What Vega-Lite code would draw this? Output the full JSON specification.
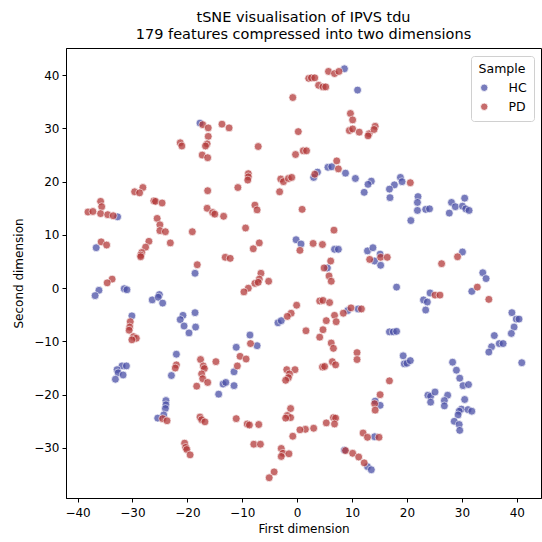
{
  "$schema": "https://vega.github.io/schema/vega-lite/v6.json",
  "width": 475,
  "height": 450,
  "autosize": {"type": "none"},
  "padding": {"left": 66, "top": 48, "right": 1, "bottom": 44},
  "title": {
    "text": ["tSNE visualisation of IPVS tdu", "179 features compressed into two dimensions"],
    "fontSize": 14.5,
    "fontWeight": "normal",
    "font": "DejaVu Sans",
    "color": "black",
    "anchor": "middle",
    "lineHeight": 17,
    "offset": 6
  },
  "data": {
    "values": [
      {"x": -17.7, "y": 31.0, "s": "HC"},
      {"x": 8.6, "y": 41.2, "s": "HC"}, {"x": 11.0, "y": 37.2, "s": "HC"}, {"x": 5.6, "y": 22.7, "s": "HC"}, {"x": 6.3, "y": 22.8, "s": "HC"}, {"x": 3.7, "y": 21.8, "s": "HC"}, {"x": 3.0, "y": 20.8, "s": "HC"}, {"x": 8.8, "y": 21.6, "s": "HC"}, {"x": 10.6, "y": 20.6, "s": "HC"}, {"x": 13.5, "y": 20.1, "s": "HC"}, {"x": 12.9, "y": 19.5, "s": "HC"}, {"x": 12.2, "y": 18.0, "s": "HC"},
      {"x": 18.8, "y": 20.8, "s": "HC"}, {"x": 19.1, "y": 20.0, "s": "HC"}, {"x": 17.7, "y": 19.4, "s": "HC"}, {"x": 16.8, "y": 18.6, "s": "HC"}, {"x": 16.9, "y": 17.0, "s": "HC"}, {"x": 22.0, "y": 17.2, "s": "HC"}, {"x": 30.5, "y": 16.9, "s": "HC"},
      {"x": -32.7, "y": 13.4, "s": "HC"}, {"x": -36.6, "y": 7.6, "s": "HC"}, {"x": -18.6, "y": 2.8, "s": "HC"}, {"x": -36.1, "y": -0.4, "s": "HC"}, {"x": -36.8, "y": -1.4, "s": "HC"}, {"x": -31.5, "y": -0.1, "s": "HC"}, {"x": -31.0, "y": -0.3, "s": "HC"}, {"x": -26.4, "y": -2.2, "s": "HC"}, {"x": -25.1, "y": -1.2, "s": "HC"}, {"x": -25.3, "y": -1.7, "s": "HC"}, {"x": -24.5, "y": -2.8, "s": "HC"}, {"x": -20.8, "y": -5.1, "s": "HC"}, {"x": -21.3, "y": -5.9, "s": "HC"}, {"x": -18.6, "y": -4.6, "s": "HC"}, {"x": -20.6, "y": -7.1, "s": "HC"}, {"x": -18.5, "y": -7.3, "s": "HC"}, {"x": -19.7, "y": -8.4, "s": "HC"}, {"x": -30.1, "y": -5.2, "s": "HC"},
      {"x": -0.2, "y": 9.1, "s": "HC"}, {"x": 0.7, "y": 8.3, "s": "HC"}, {"x": 6.8, "y": 7.3, "s": "HC"}, {"x": 7.5, "y": 7.3, "s": "HC"}, {"x": 12.8, "y": 7.0, "s": "HC"}, {"x": 13.8, "y": 7.6, "s": "HC"}, {"x": 14.1, "y": 5.1, "s": "HC"}, {"x": 15.1, "y": 6.4, "s": "HC"}, {"x": 15.2, "y": 4.3, "s": "HC"}, {"x": 5.5, "y": 3.8, "s": "HC"}, {"x": -3.5, "y": -6.5, "s": "HC"}, {"x": -2.9, "y": -6.1, "s": "HC"}, {"x": 9.2, "y": -4.2, "s": "HC"}, {"x": 11.1, "y": -3.9, "s": "HC"}, {"x": -8.6, "y": -8.8, "s": "HC"}, {"x": -7.3, "y": -10.8, "s": "HC"}, {"x": -11.1, "y": -11.1, "s": "HC"},
      {"x": 21.9, "y": 16.1, "s": "HC"}, {"x": 21.9, "y": 14.6, "s": "HC"}, {"x": 23.4, "y": 14.8, "s": "HC"}, {"x": 24.1, "y": 14.9, "s": "HC"}, {"x": 20.7, "y": 12.7, "s": "HC"}, {"x": 28.1, "y": 16.1, "s": "HC"}, {"x": 28.8, "y": 15.3, "s": "HC"}, {"x": 27.7, "y": 14.1, "s": "HC"}, {"x": 30.1, "y": 15.4, "s": "HC"}, {"x": 30.7, "y": 14.9, "s": "HC"}, {"x": 31.3, "y": 14.6, "s": "HC"}, {"x": 30.1, "y": 6.8, "s": "HC"}, {"x": 18.1, "y": 0.2, "s": "HC"}, {"x": 33.8, "y": 2.9, "s": "HC"}, {"x": 34.4, "y": 1.8, "s": "HC"}, {"x": 31.8, "y": -0.6, "s": "HC"}, {"x": 24.2, "y": -0.9, "s": "HC"}, {"x": 23.0, "y": -2.2, "s": "HC"}, {"x": 23.7, "y": -2.6, "s": "HC"}, {"x": 23.4, "y": -4.1, "s": "HC"}, {"x": 16.8, "y": -8.2, "s": "HC"}, {"x": 17.5, "y": -8.2, "s": "HC"}, {"x": 18.1, "y": -8.1, "s": "HC"}, {"x": 39.1, "y": -4.6, "s": "HC"}, {"x": 39.9, "y": -5.8, "s": "HC"}, {"x": 40.4, "y": -5.8, "s": "HC"}, {"x": 39.5, "y": -7.3, "s": "HC"}, {"x": 39.0, "y": -8.5, "s": "HC"}, {"x": 35.9, "y": -8.9, "s": "HC"}, {"x": 36.8, "y": -10.4, "s": "HC"}, {"x": 37.5, "y": -10.4, "s": "HC"}, {"x": 35.4, "y": -11.0, "s": "HC"},
      {"x": -22.0, "y": -12.4, "s": "HC"}, {"x": -22.9, "y": -16.4, "s": "HC"}, {"x": -13.5, "y": -18.0, "s": "HC"}, {"x": -13.0, "y": -17.7, "s": "HC"}, {"x": -14.3, "y": -19.9, "s": "HC"}, {"x": -31.9, "y": -14.6, "s": "HC"}, {"x": -31.1, "y": -14.6, "s": "HC"}, {"x": -32.8, "y": -15.3, "s": "HC"}, {"x": -32.6, "y": -15.9, "s": "HC"}, {"x": -31.7, "y": -16.3, "s": "HC"}, {"x": -33.1, "y": -17.1, "s": "HC"}, {"x": -23.9, "y": -21.1, "s": "HC"}, {"x": -23.9, "y": -21.9, "s": "HC"}, {"x": -24.0, "y": -22.6, "s": "HC"}, {"x": -24.3, "y": -23.8, "s": "HC"}, {"x": -25.4, "y": -24.4, "s": "HC"},
      {"x": -11.5, "y": -15.7, "s": "HC"}, {"x": -11.5, "y": -18.3, "s": "HC"}, {"x": 14.2, "y": -21.2, "s": "HC"}, {"x": 15.1, "y": -22.0, "s": "HC"}, {"x": 14.1, "y": -27.9, "s": "HC"}, {"x": 8.6, "y": -30.4, "s": "HC"}, {"x": 12.8, "y": -33.5, "s": "HC"}, {"x": 13.5, "y": -34.1, "s": "HC"},
      {"x": 34.9, "y": -12.0, "s": "HC"}, {"x": 40.9, "y": -14.0, "s": "HC"}, {"x": 19.3, "y": -12.7, "s": "HC"}, {"x": 19.5, "y": -14.2, "s": "HC"}, {"x": 20.0, "y": -14.1, "s": "HC"}, {"x": 20.6, "y": -13.6, "s": "HC"}, {"x": 28.3, "y": -13.9, "s": "HC"}, {"x": 29.0, "y": -15.4, "s": "HC"}, {"x": 29.6, "y": -16.9, "s": "HC"}, {"x": 30.2, "y": -18.3, "s": "HC"}, {"x": 31.2, "y": -18.1, "s": "HC"}, {"x": 23.8, "y": -20.1, "s": "HC"}, {"x": 24.3, "y": -20.3, "s": "HC"}, {"x": 25.1, "y": -19.5, "s": "HC"}, {"x": 24.3, "y": -21.4, "s": "HC"}, {"x": 27.4, "y": -20.1, "s": "HC"}, {"x": 26.8, "y": -21.1, "s": "HC"}, {"x": 26.8, "y": -22.1, "s": "HC"}, {"x": 30.5, "y": -20.9, "s": "HC"}, {"x": 29.9, "y": -22.7, "s": "HC"}, {"x": 29.5, "y": -23.1, "s": "HC"}, {"x": 31.1, "y": -22.8, "s": "HC"}, {"x": 31.8, "y": -23.1, "s": "HC"}, {"x": 29.3, "y": -23.8, "s": "HC"}, {"x": 28.6, "y": -25.0, "s": "HC"}, {"x": 29.5, "y": -25.6, "s": "HC"}, {"x": 29.6, "y": -26.7, "s": "HC"},
      {"x": -17.2, "y": 30.7, "s": "PD"}, {"x": -16.2, "y": 30.1, "s": "PD"}, {"x": -13.7, "y": 30.8, "s": "PD"}, {"x": -12.4, "y": 30.1, "s": "PD"}, {"x": -16.2, "y": 28.5, "s": "PD"}, {"x": -16.4, "y": 27.1, "s": "PD"}, {"x": -16.7, "y": 26.7, "s": "PD"}, {"x": -21.3, "y": 27.3, "s": "PD"}, {"x": -21.0, "y": 26.7, "s": "PD"}, {"x": -17.3, "y": 25.0, "s": "PD"}, {"x": -16.3, "y": 24.5, "s": "PD"}, {"x": -16.3, "y": 18.3, "s": "PD"}, {"x": -28.1, "y": 18.9, "s": "PD"}, {"x": -29.6, "y": 18.1, "s": "PD"}, {"x": -28.7, "y": 17.9, "s": "PD"},
      {"x": 2.1, "y": 39.4, "s": "PD"}, {"x": 2.6, "y": 39.5, "s": "PD"}, {"x": 3.2, "y": 39.5, "s": "PD"}, {"x": 5.7, "y": 40.7, "s": "PD"}, {"x": 6.8, "y": 40.3, "s": "PD"}, {"x": 7.6, "y": 40.7, "s": "PD"}, {"x": 3.9, "y": 38.1, "s": "PD"}, {"x": 4.7, "y": 37.8, "s": "PD"}, {"x": 5.2, "y": 37.8, "s": "PD"}, {"x": -0.8, "y": 35.8, "s": "PD"}, {"x": 9.7, "y": 32.8, "s": "PD"}, {"x": 10.1, "y": 31.6, "s": "PD"}, {"x": 9.5, "y": 29.6, "s": "PD"}, {"x": 10.1, "y": 29.9, "s": "PD"}, {"x": 11.3, "y": 29.3, "s": "PD"}, {"x": 13.1, "y": 29.0, "s": "PD"}, {"x": 12.9, "y": 28.6, "s": "PD"}, {"x": 14.2, "y": 30.4, "s": "PD"}, {"x": 14.0, "y": 29.8, "s": "PD"}, {"x": 0.2, "y": 29.4, "s": "PD"}, {"x": -7.1, "y": 26.6, "s": "PD"}, {"x": 1.1, "y": 25.8, "s": "PD"}, {"x": 1.7, "y": 25.8, "s": "PD"}, {"x": -0.3, "y": 25.1, "s": "PD"}, {"x": 7.2, "y": 23.9, "s": "PD"}, {"x": 7.5, "y": 22.4, "s": "PD"}, {"x": 3.2, "y": 21.4, "s": "PD"}, {"x": -8.9, "y": 21.5, "s": "PD"}, {"x": -8.9, "y": 20.9, "s": "PD"}, {"x": -9.0, "y": 20.3, "s": "PD"}, {"x": -10.8, "y": 18.9, "s": "PD"}, {"x": -3.0, "y": 20.5, "s": "PD"}, {"x": -2.5, "y": 20.0, "s": "PD"}, {"x": -1.6, "y": 20.6, "s": "PD"}, {"x": -1.0, "y": 20.8, "s": "PD"}, {"x": -3.2, "y": 18.1, "s": "PD"},
      {"x": 20.6, "y": 19.8, "s": "PD"},
      {"x": -26.1, "y": 16.4, "s": "PD"}, {"x": -25.8, "y": 16.3, "s": "PD"}, {"x": -24.6, "y": 16.0, "s": "PD"}, {"x": -35.8, "y": 16.3, "s": "PD"}, {"x": -35.6, "y": 15.3, "s": "PD"}, {"x": -38.1, "y": 14.3, "s": "PD"}, {"x": -37.2, "y": 14.4, "s": "PD"}, {"x": -35.8, "y": 14.0, "s": "PD"}, {"x": -34.5, "y": 13.8, "s": "PD"}, {"x": -33.5, "y": 13.6, "s": "PD"}, {"x": -16.4, "y": 15.0, "s": "PD"}, {"x": -15.4, "y": 14.2, "s": "PD"}, {"x": -15.0, "y": 13.9, "s": "PD"}, {"x": -13.4, "y": 13.5, "s": "PD"}, {"x": -25.5, "y": 13.1, "s": "PD"}, {"x": -25.0, "y": 11.9, "s": "PD"}, {"x": -25.0, "y": 10.8, "s": "PD"}, {"x": -24.0, "y": 10.6, "s": "PD"}, {"x": -19.1, "y": 10.6, "s": "PD"}, {"x": -23.1, "y": 8.5, "s": "PD"}, {"x": -35.7, "y": 8.7, "s": "PD"}, {"x": -34.7, "y": 8.1, "s": "PD"}, {"x": -27.0, "y": 8.8, "s": "PD"}, {"x": -27.6, "y": 7.7, "s": "PD"}, {"x": -28.3, "y": 6.7, "s": "PD"}, {"x": -28.5, "y": 6.2, "s": "PD"}, {"x": -28.5, "y": 5.9, "s": "PD"}, {"x": -13.1, "y": 5.8, "s": "PD"}, {"x": -18.2, "y": 4.4, "s": "PD"}, {"x": -33.7, "y": 1.7, "s": "PD"}, {"x": -34.6, "y": 1.0, "s": "PD"}, {"x": -30.4, "y": -6.3, "s": "PD"}, {"x": -30.5, "y": -7.3, "s": "PD"}, {"x": -30.6, "y": -7.9, "s": "PD"}, {"x": -29.8, "y": -9.1, "s": "PD"}, {"x": -29.3, "y": -9.4, "s": "PD"}, {"x": -30.1, "y": -9.7, "s": "PD"},
      {"x": -7.7, "y": 15.6, "s": "PD"}, {"x": -7.3, "y": 14.7, "s": "PD"}, {"x": 0.9, "y": 14.8, "s": "PD"}, {"x": -9.4, "y": 11.3, "s": "PD"}, {"x": 6.7, "y": 10.9, "s": "PD"}, {"x": 0.5, "y": 7.1, "s": "PD"}, {"x": 2.9, "y": 8.4, "s": "PD"}, {"x": 4.6, "y": 8.2, "s": "PD"}, {"x": -6.9, "y": 8.5, "s": "PD"}, {"x": -8.0, "y": 7.4, "s": "PD"}, {"x": -12.2, "y": 5.6, "s": "PD"}, {"x": 13.2, "y": 5.4, "s": "PD"}, {"x": 15.2, "y": 5.8, "s": "PD"}, {"x": 6.1, "y": 5.1, "s": "PD"}, {"x": 4.9, "y": 3.8, "s": "PD"}, {"x": 5.8, "y": 2.3, "s": "PD"}, {"x": 6.2, "y": 1.3, "s": "PD"}, {"x": -6.6, "y": 2.8, "s": "PD"}, {"x": -6.9, "y": 1.7, "s": "PD"}, {"x": -7.7, "y": 0.9, "s": "PD"}, {"x": -7.1, "y": 1.1, "s": "PD"}, {"x": -5.2, "y": 1.3, "s": "PD"}, {"x": -8.9, "y": 0.0, "s": "PD"}, {"x": -9.7, "y": -0.7, "s": "PD"}, {"x": -0.1, "y": -3.2, "s": "PD"}, {"x": 4.1, "y": -2.4, "s": "PD"}, {"x": 4.7, "y": -2.3, "s": "PD"}, {"x": 5.9, "y": -2.7, "s": "PD"}, {"x": -1.1, "y": -4.7, "s": "PD"}, {"x": -1.8, "y": -5.3, "s": "PD"}, {"x": 6.8, "y": -5.1, "s": "PD"}, {"x": 7.1, "y": -6.3, "s": "PD"}, {"x": 5.3, "y": -6.1, "s": "PD"}, {"x": 8.4, "y": -4.7, "s": "PD"}, {"x": 9.8, "y": -3.7, "s": "PD"}, {"x": 11.7, "y": -3.9, "s": "PD"}, {"x": 1.6, "y": -8.0, "s": "PD"}, {"x": 4.7, "y": -7.8, "s": "PD"}, {"x": 4.1, "y": -9.2, "s": "PD"}, {"x": 6.2, "y": -10.3, "s": "PD"}, {"x": -8.5, "y": -10.4, "s": "PD"},
      {"x": 16.4, "y": 5.8, "s": "PD"}, {"x": 26.3, "y": 4.6, "s": "PD"}, {"x": 29.2, "y": 5.9, "s": "PD"}, {"x": 32.8, "y": 0.2, "s": "PD"}, {"x": 34.9, "y": -2.1, "s": "PD"}, {"x": 25.1, "y": -1.3, "s": "PD"}, {"x": 26.0, "y": -1.3, "s": "PD"},
      {"x": -22.0, "y": -14.4, "s": "PD"}, {"x": -22.2, "y": -15.0, "s": "PD"}, {"x": -17.6, "y": -13.4, "s": "PD"}, {"x": -14.8, "y": -13.8, "s": "PD"}, {"x": -17.1, "y": -14.6, "s": "PD"}, {"x": -16.9, "y": -15.1, "s": "PD"}, {"x": -17.4, "y": -16.1, "s": "PD"}, {"x": -17.2, "y": -17.0, "s": "PD"}, {"x": -16.3, "y": -17.7, "s": "PD"}, {"x": -18.3, "y": -18.4, "s": "PD"}, {"x": -24.5, "y": -24.5, "s": "PD"}, {"x": -23.7, "y": -24.9, "s": "PD"}, {"x": -17.7, "y": -24.2, "s": "PD"}, {"x": -17.4, "y": -24.7, "s": "PD"}, {"x": -16.8, "y": -25.1, "s": "PD"}, {"x": -20.5, "y": -29.1, "s": "PD"}, {"x": -20.3, "y": -29.9, "s": "PD"}, {"x": -20.1, "y": -30.3, "s": "PD"}, {"x": -19.5, "y": -31.3, "s": "PD"},
      {"x": -10.4, "y": -12.8, "s": "PD"}, {"x": -9.3, "y": -13.3, "s": "PD"}, {"x": -10.9, "y": -14.6, "s": "PD"}, {"x": 6.6, "y": -11.3, "s": "PD"}, {"x": 10.9, "y": -12.1, "s": "PD"}, {"x": 10.9, "y": -13.4, "s": "PD"}, {"x": -1.9, "y": -15.3, "s": "PD"}, {"x": -0.4, "y": -15.3, "s": "PD"}, {"x": -1.4, "y": -16.1, "s": "PD"}, {"x": -1.6, "y": -16.8, "s": "PD"}, {"x": -2.1, "y": -17.3, "s": "PD"}, {"x": 4.6, "y": -14.8, "s": "PD"}, {"x": 5.0, "y": -14.7, "s": "PD"}, {"x": 6.4, "y": -13.8, "s": "PD"}, {"x": 7.0, "y": -14.4, "s": "PD"}, {"x": 15.1, "y": -20.0, "s": "PD"}, {"x": 14.1, "y": -21.7, "s": "PD"}, {"x": 14.2, "y": -22.9, "s": "PD"}, {"x": -1.2, "y": -22.6, "s": "PD"}, {"x": -1.8, "y": -23.9, "s": "PD"}, {"x": -1.2, "y": -24.3, "s": "PD"}, {"x": -2.1, "y": -24.4, "s": "PD"}, {"x": -11.1, "y": -24.5, "s": "PD"}, {"x": -9.1, "y": -25.5, "s": "PD"}, {"x": -8.7, "y": -25.7, "s": "PD"}, {"x": -7.0, "y": -25.6, "s": "PD"}, {"x": 6.6, "y": -24.3, "s": "PD"}, {"x": 7.0, "y": -24.4, "s": "PD"}, {"x": 5.3, "y": -25.3, "s": "PD"}, {"x": 6.8, "y": -25.5, "s": "PD"}, {"x": 3.0, "y": -26.3, "s": "PD"}, {"x": 1.5, "y": -26.5, "s": "PD"}, {"x": 0.5, "y": -26.6, "s": "PD"}, {"x": -0.8, "y": -27.8, "s": "PD"}, {"x": 12.0, "y": -27.2, "s": "PD"}, {"x": 12.8, "y": -28.0, "s": "PD"}, {"x": 14.9, "y": -28.0, "s": "PD"}, {"x": -7.9, "y": -29.3, "s": "PD"}, {"x": -6.7, "y": -29.3, "s": "PD"}, {"x": -2.9, "y": -30.1, "s": "PD"}, {"x": -2.6, "y": -31.0, "s": "PD"}, {"x": -2.9, "y": -31.6, "s": "PD"}, {"x": -1.5, "y": -31.1, "s": "PD"}, {"x": 8.8, "y": -30.5, "s": "PD"}, {"x": 10.1, "y": -31.0, "s": "PD"}, {"x": 11.2, "y": -31.7, "s": "PD"}, {"x": 12.2, "y": -32.8, "s": "PD"}, {"x": -4.2, "y": -34.5, "s": "PD"}, {"x": -5.1, "y": -35.6, "s": "PD"},
      {"x": 16.8, "y": -17.4, "s": "PD"}
    ]
  },
  "mark": {"type": "point", "shape": "circle", "filled": true, "size": 62, "opacity": 0.75, "stroke": "white", "strokeWidth": 0.8, "strokeOpacity": 0.9},
  "encoding": {
    "x": {
      "field": "x", "type": "quantitative", "title": "First dimension",
      "scale": {"domain": [-42.1, 44.4], "nice": false, "zero": false},
      "axis": {"values": [-40, -30, -20, -10, 0, 10, 20, 30, 40], "titlePadding": 5, "labelPadding": 5}
    },
    "y": {
      "field": "y", "type": "quantitative", "title": "Second dimension",
      "scale": {"domain": [-39.4, 45.1], "nice": false, "zero": false},
      "axis": {"values": [-30, -20, -10, 0, 10, 20, 30, 40], "titlePadding": 8}
    },
    "color": {
      "field": "s", "type": "nominal", "title": "Sample",
      "scale": {"domain": ["HC", "PD"], "range": ["#4a4fa6", "#b33a3a"]},
      "legend": {
        "orient": "none", "legendX": 405, "legendY": 8,
        "padding": 7, "strokeColor": "#d0d0d0", "fillColor": "white", "cornerRadius": 3,
        "titleAnchor": "middle", "titleFontSize": 12.5, "titleFontWeight": "normal", "titleColor": "black", "titlePadding": 6,
        "labelFontSize": 12.5, "labelColor": "black", "labelOffset": 18,
        "symbolType": "circle", "symbolSize": 55, "symbolOpacity": 0.75, "symbolStrokeColor": "white", "symbolStrokeWidth": 0.8,
        "rowPadding": 6
      }
    }
  },
  "config": {
    "font": "DejaVu Sans",
    "background": "white",
    "view": {"stroke": "black", "strokeWidth": 1},
    "axis": {
      "grid": false, "domainColor": "black", "tickColor": "black", "labelColor": "black", "titleColor": "black",
      "tickSize": 4, "labelFontSize": 12, "titleFontSize": 12, "titleFontWeight": "normal", "labelPadding": 3,
      "labelFont": "DejaVu Sans", "titleFont": "DejaVu Sans"
    }
  }
}
